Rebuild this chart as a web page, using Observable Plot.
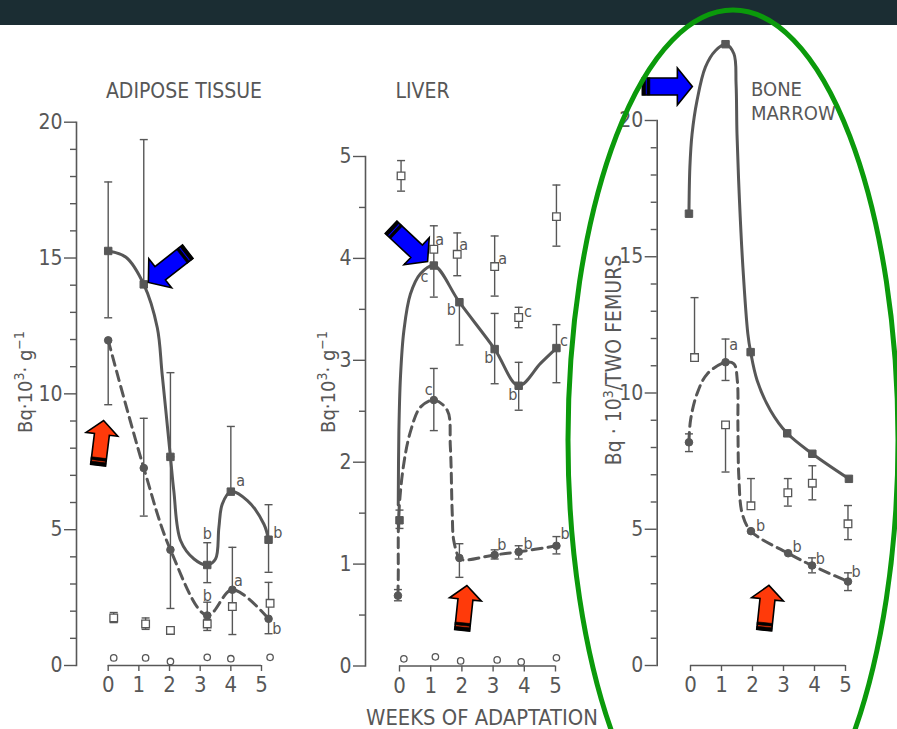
<!DOCTYPE html>
<html><head><meta charset="utf-8">
<script src="https://cdn.jsdelivr.net/npm/d3@7"></script>
<script src="https://cdn.jsdelivr.net/npm/@observablehq/plot@0.6"></script>
<style>
html,body{margin:0;padding:0;background:#fff;}
#stage{position:relative;width:897px;height:729px;overflow:hidden;background:#fff;}
#header{position:absolute;left:0;top:0;width:897px;height:25px;background:#1b2d33;}
#overlay{position:absolute;left:0;top:0;pointer-events:none;}
</style></head>
<body><div id="stage"><div id="header"></div></div>
<script>
// ---------------- DATA ----------------
const weekTicks = [0, 1, 2, 3, 4, 5];

// ADIPOSE TISSUE (Bq·10^3·g^-1)
const adiSqX  = [0, 1.16, 2.03, 3.23, 4.0, 5.23];
const adiSqY  = [15.26, 14.03, 7.68, 3.70, 6.40, 4.63];
const adiSqLo = [12.8, null, null, 3.05, null, 3.43];
const adiSqHi = [17.8, 19.36, 10.78, 4.52, 8.8, 5.92];
const adiDotX  = [0, 1.16, 2.03, 3.23, 4.05, 5.23];
const adiDotY  = [11.97, 7.27, 4.26, 1.84, 2.79, 1.72];
const adiDotLo = [9.6, 5.5, 2.1, 1.45, 1.14, 1.17];
const adiDotHi = [null, 9.1, 7.68, 2.33, 4.35, 3.06];
const adiOpenX  = [0.18, 1.22, 2.03, 3.23, 4.05, 5.28];
const adiOpenY  = [1.75, 1.53, 1.29, 1.53, 2.17, 2.29];
const adiOpenLo = [1.58, 1.33, 1.2, 1.29, null, null];
const adiOpenHi = [1.95, 1.75, 1.38, 1.7, null, null];
const adiCircX = [0.18, 1.22, 2.03, 3.23, 4.0, 5.28];
const adiCircY = [0.28, 0.28, 0.15, 0.30, 0.25, 0.30];
const adiSolidCurveX = [0, 0.58, 1.16, 1.6, 1.76, 2.03, 2.14, 2.36, 2.8, 3.23, 3.5, 3.61, 3.72, 4.0, 4.54, 5.08, 5.23];
const adiSolidCurveY = [15.26, 15.03, 14.03, 12.44, 10.72, 7.68, 6.43, 4.6, 3.92, 3.70, 3.92, 5.08, 5.94, 6.4, 6.07, 5.2, 4.63];
const adiDashCurveX = [0, 1.16, 2.03, 3.23, 4.05, 5.23];
const adiDashCurveY = [11.97, 7.27, 4.26, 1.84, 2.79, 1.72];
const adiLetterX = [3.23, 4.32, 5.53, 3.23, 4.25, 5.5];
const adiLetterY = [4.84, 6.8, 4.9, 2.57, 3.13, 1.35];
const adiLetterT = ["b", "a", "b", "b", "a", "b"];
const adiArrowX = [1.31, -0.15];
const adiArrowY = [14.1, 9.02];
const adiArrowAngle = [232, 7];
const adiArrowKind = ["blue", "red"];

// LIVER (Bq·10^3·g^-1)
const livSqX  = [0, 1.10, 1.92, 3.05, 3.82, 5.03];
const livSqY  = [1.43, 3.93, 3.57, 3.11, 2.75, 3.12];
const livSqLo = [1.35, 3.62, 3.15, 2.77, 2.51, 2.78];
const livSqHi = [1.53, 4.09, null, 3.46, 2.98, 3.35];
const livOpenX  = [0.05, 1.10, 1.85, 3.05, 3.82, 5.03];
const livOpenY  = [4.81, 4.09, 4.04, 3.92, 3.42, 4.41];
const livOpenLo = [4.66, null, 3.83, 3.63, 3.32, 4.12];
const livOpenHi = [4.96, 4.32, 4.25, 4.22, 3.52, 4.72];
const livDotX  = [-0.05, 1.10, 1.92, 3.05, 3.82, 5.03];
const livDotY  = [0.69, 2.61, 1.06, 1.09, 1.12, 1.18];
const livDotLo = [0.64, 2.31, 0.87, 1.05, 1.05, 1.10];
const livDotHi = [0.75, 2.92, 1.20, 1.14, 1.18, 1.27];
const livCircX = [0.14, 1.15, 1.96, 3.13, 3.9, 5.03];
const livCircY = [0.07, 0.09, 0.05, 0.06, 0.04, 0.08];
const livSolidCurveX = [-0.04, -0.02, 0.03, 0.14, 0.35, 0.67, 1.10, 1.92, 3.05, 3.82, 4.52, 5.03];
const livSolidCurveY = [1.58, 2.3, 2.83, 3.29, 3.65, 3.85, 3.93, 3.57, 3.11, 2.75, 2.97, 3.12];
const livDashCurveX = [-0.05, -0.04, -0.02, 0.14, 0.36, 0.67, 1.10, 1.53, 1.63, 1.69, 1.74, 1.92, 2.06, 3.05, 3.82, 5.03];
const livDashCurveY = [0.69, 0.87, 1.5, 1.99, 2.31, 2.54, 2.61, 2.51, 2.15, 1.5, 1.23, 1.06, 1.04, 1.09, 1.12, 1.18];
const livLetterX = [0.8, 1.29, 2.06, 1.66, 3.31, 2.86, 4.12, 3.63, 5.27, 0.94, 3.28, 4.12, 5.31];
const livLetterY = [3.82, 4.18, 4.13, 3.49, 4.0, 3.02, 3.48, 2.66, 3.19, 2.71, 1.19, 1.2, 1.3];
const livLetterT = ["c", "a", "a", "b", "a", "b", "c", "b", "c", "c", "b", "b", "b"];
const livArrowX = [0.90, 2.16];
const livArrowY = [3.97, 0.79];
const livArrowAngle = [133, 6];
const livArrowKind = ["blue", "red"];

// BONE MARROW (Bq·10^3 / two femurs)
const bmSqX = [-0.05, 1.13, 1.94, 3.12, 3.93, 5.11];
const bmSqY = [16.58, 22.8, 11.5, 8.52, 7.77, 6.85];
const bmDotX  = [-0.05, 1.13, 1.95, 3.15, 3.92, 5.08];
const bmDotY  = [8.19, 11.13, 4.93, 4.12, 3.67, 3.08];
const bmDotLo = [7.85, 10.46, null, null, 3.4, 2.75];
const bmDotHi = [8.5, 11.98, null, null, 3.95, 3.4];
const bmOpenX  = [0.13, 1.13, 1.95, 3.14, 3.93, 5.08];
const bmOpenY  = [11.3, 8.83, 5.86, 6.34, 6.69, 5.2];
const bmOpenLo = [null, 7.1, null, 5.85, 6.08, 4.62];
const bmOpenHi = [13.5, null, 6.86, 6.86, 7.33, 5.87];
const bmSolidCurveX = [-0.05, -0.02, 0.05, 0.21, 0.48, 0.81, 1.13, 1.40, 1.47, 1.50, 1.58, 1.69, 1.85, 1.94, 2.15, 2.58, 3.12, 3.93, 5.11];
const bmSolidCurveY = [16.58, 18.29, 19.5, 20.73, 21.96, 22.57, 22.8, 22.45, 21.35, 19.5, 17.06, 14.62, 12.17, 11.5, 10.46, 9.36, 8.52, 7.77, 6.85];
const bmDashCurveX = [-0.05, 0, 0.21, 0.54, 1.13, 1.40, 1.51, 1.53, 1.56, 1.67, 1.95, 3.15, 3.92, 5.08];
const bmDashCurveY = [8.19, 8.99, 9.97, 10.7, 11.13, 11.07, 10.46, 8.74, 6.91, 5.57, 4.93, 4.12, 3.67, 3.08];
const bmLetterX = [1.39, 2.26, 3.44, 4.19, 5.34];
const bmLetterY = [11.75, 5.14, 4.34, 3.92, 3.42];
const bmLetterT = ["a", "b", "b", "b", "b"];
const bmArrowX = [0.06, 2.53];
const bmArrowY = [21.25, 2.94];
const bmArrowAngle = [90, 6];
const bmArrowKind = ["blue", "red"];

// ---------------- HELPERS ----------------
const FONT = '"DejaVu Sans Condensed","DejaVu Sans",sans-serif';
const INK = "#575757";
const ARROW_FILL = {blue: "#0000ff", red: "#ff3a0a"};

const pts = (xs, ys) => xs.map((x, i) => ({x, y: ys[i]}));
const ser = (xs, ys, lo, hi) => xs.map((x, i) => ({x, y: ys[i], lo: lo ? lo[i] : null, hi: hi ? hi[i] : null}));
const bars = s => s.filter(d => d.lo != null || d.hi != null).map(d => ({x: d.x, y1: d.lo ?? d.y, y2: d.hi ?? d.y}));
const caps = s => s.flatMap(d => [d.lo, d.hi].filter(v => v != null).map(v => ({x: d.x, y: v})));
const capSymbol = {draw(ctx, size) { const w = Math.sqrt(size / Math.PI); ctx.moveTo(-w, 0); ctx.lineTo(w, 0); }};

function blockArrow(sh, hh, hl) {
  return {draw(ctx, l) {
    const b = -(l - hl);
    ctx.moveTo(-sh, 0); ctx.lineTo(-sh, b); ctx.lineTo(-hh, b); ctx.lineTo(0, -l);
    ctx.lineTo(hh, b); ctx.lineTo(sh, b); ctx.lineTo(sh, 0); ctx.closePath();
  }};
}
function tailBand(sh) {
  return {draw(ctx) {
    ctx.rect(-sh, -3.2, 2 * sh, 3.2);
    ctx.rect(-sh, -7.5, 2 * sh, 2.8);
  }};
}

function panel(cfg) {
  const sq = ser(...cfg.sq), dot = ser(...cfg.dot), open = ser(...cfg.open);
  const circ = cfg.circ ? pts(...cfg.circ) : [];
  const allErr = [...sq, ...dot, ...open];
  const letters = cfg.letters[0].map((x, i) => ({x, y: cfg.letters[1][i], t: cfg.letters[2][i]}));
  const arrows = cfg.arrows[0].map((x, i) => ({x, y: cfg.arrows[1][i], a: cfg.arrows[2][i], k: cfg.arrows[3][i]}));
  const marks = [];
  arrows.forEach(d => {
    const big = d.k === "blue";
    const sh = big ? 8.5 : 7.5, hh = big ? 18.5 : 16, hl = big ? 15 : 14, len = big ? 50 : 45;
    marks.push(Plot.vector([d], {x: "x", y: "y", rotate: "a", length: len, anchor: "end",
      shape: blockArrow(sh, hh, hl), fill: ARROW_FILL[d.k], stroke: "black", strokeWidth: 1.6, strokeLinejoin: "miter"}));
    marks.push(Plot.vector([d], {x: "x", y: "y", rotate: "a", length: len, anchor: "end",
      shape: tailBand(sh), fill: "black", stroke: "black", strokeWidth: 0.6}));
  });
  return Plot.plot({
    width: cfg.width, height: 729,
    marginLeft: cfg.marginLeft, marginRight: 0, marginTop: cfg.yRange[1], marginBottom: 729 - cfg.yRange[0],
    x: {domain: [0, 5], range: cfg.xRange},
    y: {domain: cfg.yDomain, range: cfg.yRange},
    style: `background:transparent;overflow:visible;color:${INK};font-family:${FONT};`,
    marks: [
      Plot.frame({anchor: "left", stroke: INK, strokeWidth: 1.6}),
      Plot.ruleY([0], {x1: 0, x2: 5, stroke: INK, strokeWidth: 1.6}),
      Plot.axisY({ticks: cfg.minor, tickSize: 6, tickFormat: () => "", label: null, color: INK, strokeWidth: 1.4}),
      Plot.axisY({ticks: cfg.major, tickSize: 12, tickPadding: 2, fontSize: 21, tickFormat: d => String(d), label: null, color: INK, strokeWidth: 1.4}),
      Plot.axisX({ticks: weekTicks, tickSize: 6, tickPadding: 5, fontSize: 22, tickFormat: d => String(d), label: null, color: INK, strokeWidth: 1.4}),
      Plot.line(pts(...cfg.solidCurve), {x: "x", y: "y", curve: "catmull-rom", stroke: INK, strokeWidth: 3}),
      Plot.line(pts(...cfg.dashCurve), {x: "x", y: "y", curve: "catmull-rom", stroke: INK, strokeWidth: 3, strokeDasharray: "10,6"}),
      Plot.ruleX(bars(allErr), {x: "x", y1: "y1", y2: "y2", stroke: INK, strokeWidth: 1.4}),
      Plot.dot(caps(allErr), {x: "x", y: "y", symbol: capSymbol, r: 4, fill: "none", stroke: INK, strokeWidth: 1.4}),
      Plot.dot(sq, {x: "x", y: "y", symbol: "square", r: 4.2, fill: INK, stroke: INK, strokeWidth: 1}),
      Plot.dot(dot, {x: "x", y: "y", symbol: "circle", r: 3.8, fill: INK, stroke: INK, strokeWidth: 1}),
      Plot.dot(open, {x: "x", y: "y", symbol: "square", r: 4.3, fill: "white", stroke: INK, strokeWidth: 1.3}),
      Plot.dot(circ, {x: "x", y: "y", symbol: "circle", r: 3.2, fill: "white", stroke: INK, strokeWidth: 1.3}),
      Plot.text(letters, {x: "x", y: "y", text: "t", fontSize: 16, fill: INK, fontFamily: FONT}),
      ...marks
    ]
  });
}

const stage = document.getElementById("stage");
function place(svg, left) { svg.style.position = "absolute"; svg.style.left = left + "px"; svg.style.top = "0px"; stage.appendChild(svg); }

place(panel({
  width: 300, marginLeft: 76, xRange: [107.7, 261], yDomain: [0, 20], yRange: [665, 121.7],
  major: [0, 5, 10, 15, 20], minor: d3.range(1, 20).filter(v => v % 5),
  sq: [adiSqX, adiSqY, adiSqLo, adiSqHi], dot: [adiDotX, adiDotY, adiDotLo, adiDotHi],
  open: [adiOpenX, adiOpenY, adiOpenLo, adiOpenHi], circ: [adiCircX, adiCircY],
  solidCurve: [adiSolidCurveX, adiSolidCurveY], dashCurve: [adiDashCurveX, adiDashCurveY],
  letters: [adiLetterX, adiLetterY, adiLetterT], arrows: [adiArrowX, adiArrowY, adiArrowAngle, adiArrowKind]
}), 0);

place(panel({
  width: 290, marginLeft: 65, xRange: [99, 255], yDomain: [0, 5], yRange: [665.5, 156],
  major: [0, 1, 2, 3, 4, 5], minor: [0.5, 1.5, 2.5, 3.5, 4.5],
  sq: [livSqX, livSqY, livSqLo, livSqHi], dot: [livDotX, livDotY, livDotLo, livDotHi],
  open: [livOpenX, livOpenY, livOpenLo, livOpenHi], circ: [livCircX, livCircY],
  solidCurve: [livSolidCurveX, livSolidCurveY], dashCurve: [livDashCurveX, livDashCurveY],
  letters: [livLetterX, livLetterY, livLetterT], arrows: [livArrowX, livArrowY, livArrowAngle, livArrowKind]
}), 300);

place(panel({
  width: 307, marginLeft: 66.7, xRange: [100, 255], yDomain: [0, 20], yRange: [665, 120],
  major: [0, 5, 10, 15, 20], minor: d3.range(1, 20).filter(v => v % 5),
  sq: [bmSqX, bmSqY, null, null], dot: [bmDotX, bmDotY, bmDotLo, bmDotHi],
  open: [bmOpenX, bmOpenY, bmOpenLo, bmOpenHi], circ: null,
  solidCurve: [bmSolidCurveX, bmSolidCurveY], dashCurve: [bmDashCurveX, bmDashCurveY],
  letters: [bmLetterX, bmLetterY, bmLetterT], arrows: [bmArrowX, bmArrowY, bmArrowAngle, bmArrowKind]
}), 590);

// ---------------- TEXT & HIGHLIGHT OVERLAY ----------------
const SUP = `font-size="14" baseline-shift="super"`;
const overlay = document.createElementNS("http://www.w3.org/2000/svg", "svg");
overlay.setAttribute("id", "overlay");
overlay.setAttribute("width", 897); overlay.setAttribute("height", 729);
overlay.innerHTML = `
<g font-family='${FONT}' fill='${INK}'>
  <text x="184" y="98" font-size="21" text-anchor="middle">ADIPOSE TISSUE</text>
  <text x="422.5" y="98" font-size="21" text-anchor="middle">LIVER</text>
  <text x="751" y="96" font-size="20">BONE</text>
  <text x="751" y="120" font-size="20">MARROW</text>
  <text x="482" y="725" font-size="21.8" text-anchor="middle">WEEKS OF ADAPTATION</text>
  <text transform="translate(32,382) rotate(-90)" font-size="20" text-anchor="middle">Bq·10<tspan ${SUP}>3</tspan>· g<tspan ${SUP}>−1</tspan></text>
  <text transform="translate(335,382) rotate(-90)" font-size="20" text-anchor="middle">Bq·10<tspan ${SUP}>3</tspan>· g<tspan ${SUP}>−1</tspan></text>
  <text transform="translate(621,360) rotate(-90)" font-size="21" text-anchor="middle">Bq · 10<tspan ${SUP}>3</tspan>/TWO FEMURS</text>
</g>
<ellipse cx="733" cy="440" rx="165" ry="430" fill="none" stroke="#0b9a0b" stroke-width="5"/>`;
stage.appendChild(overlay);
</script>
</body></html>
